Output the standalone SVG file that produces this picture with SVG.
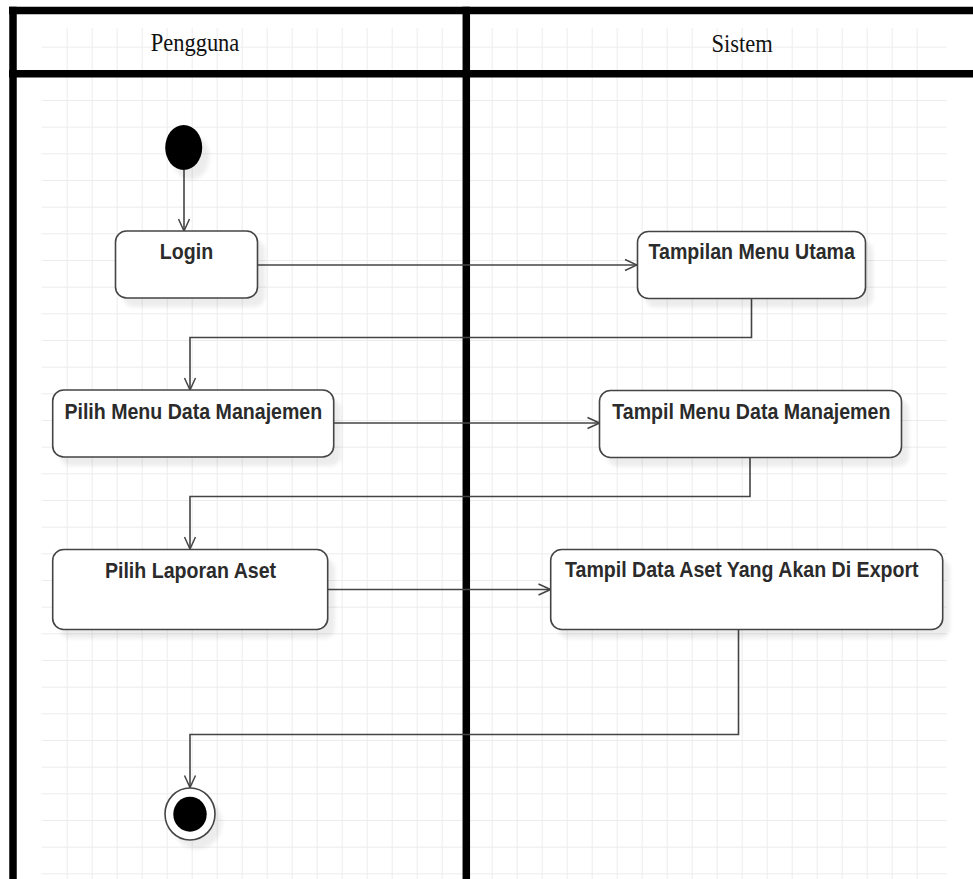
<svg xmlns="http://www.w3.org/2000/svg" width="973" height="879" viewBox="0 0 973 879">
  <defs>
    <pattern id="gridV" x="16.7" y="0" width="25" height="879" patternUnits="userSpaceOnUse">
      <line x1="0.5" y1="0" x2="0.5" y2="879" stroke="#ececec" stroke-width="1"/>
    </pattern>
    <pattern id="gridH" x="0" y="20" width="973" height="26.667" patternUnits="userSpaceOnUse">
      <line x1="0" y1="0.5" x2="973" y2="0.5" stroke="#ececec" stroke-width="1"/>
    </pattern>
    <filter id="soft" x="-20%" y="-20%" width="140%" height="140%">
      <feGaussianBlur stdDeviation="2"/>
    </filter>
    <marker id="open" viewBox="0 0 14 14" refX="13" refY="7" markerWidth="14" markerHeight="14" markerUnits="userSpaceOnUse" orient="auto">
      <path d="M1,1.5 L13,7 L1,12.5" fill="none" stroke="#444" stroke-width="1.5"/>
    </marker>
  </defs>
  <style>
    .act { fill: #fff; stroke: #444; stroke-width: 1.6; }
    .shadow { fill: #000; opacity: 0.07; filter: url(#soft); }
    .lbl { font-family: "Liberation Sans", Arial, sans-serif; font-weight: bold; font-size: 19.6px; fill: #2b2b2b; text-anchor: middle; }
    .lane { font-family: "Liberation Serif", "Times New Roman", serif; font-size: 22.5px; fill: #111; text-anchor: middle; }
    .flow { fill: none; stroke: #444; stroke-width: 1.6; marker-end: url(#open); }
    .border { stroke: #000; stroke-width: 7.5; fill: none; }
  </style>

  <!-- background grid -->
  <rect width="973" height="879" fill="#fff"/>
  <rect x="66" y="28" width="872" height="851" fill="url(#gridV)"/>
  <rect x="41.7" y="46" width="905" height="833" fill="url(#gridH)"/>

  <!-- swimlane frame -->
  <g id="lanes">
    <line class="border" x1="9" y1="10.5" x2="973" y2="10.5"/>
    <line class="border" x1="9" y1="73.7" x2="973" y2="73.7"/>
    <line class="border" x1="13" y1="6.7" x2="13" y2="879"/>
    <line class="border" x1="466.3" y1="6.7" x2="466.3" y2="879"/>
    <text class="lane" transform="translate(195,50.5) scale(1,1.08)">Pengguna</text>
    <text class="lane" transform="translate(742.2,52) scale(1,1.08)">Sistem</text>
  </g>

  <!-- connectors -->
  <g id="connectors">
    <path class="flow" d="M184,170 V231"/>
    <path class="flow" d="M258,265 H637"/>
    <path class="flow" d="M751.5,298.5 V337.5 H190 V390"/>
    <path class="flow" d="M334,423 H599.5"/>
    <path class="flow" d="M750,457.5 V496.5 H190 V549"/>
    <path class="flow" d="M327.5,589.5 H550.5"/>
    <path class="flow" d="M738.5,629.5 V734.5 H190 V787.5"/>
  </g>

  <!-- start -->
  <g id="start">
    <ellipse class="shadow" cx="191" cy="157" rx="18.5" ry="22.5"/>
    <ellipse cx="183.7" cy="147.5" rx="18.5" ry="22.5" fill="#000"/>
  </g>

  <g id="login">
    <rect class="shadow" x="123" y="240" width="142" height="67" rx="11"/>
    <rect class="act" x="115.5" y="231" width="142" height="67" rx="11"/>
    <text class="lbl" transform="translate(186.5,259) scale(1,1.08)">Login</text>
  </g>

  <g id="menu-utama">
    <rect class="shadow" x="645" y="240.5" width="228" height="67" rx="11"/>
    <rect class="act" x="637.5" y="231.5" width="228" height="67" rx="11"/>
    <text class="lbl" transform="translate(751.7,259.3) scale(1,1.08)">Tampilan Menu Utama</text>
  </g>

  <g id="pilih-menu">
    <rect class="shadow" x="60" y="399" width="281" height="67" rx="11"/>
    <rect class="act" x="52.7" y="390" width="281" height="67" rx="11"/>
    <text class="lbl" transform="translate(193.3,419.3) scale(1,1.08)">Pilih Menu Data Manajemen</text>
  </g>

  <g id="tampil-menu">
    <rect class="shadow" x="607" y="399.5" width="302" height="67" rx="11"/>
    <rect class="act" x="599.5" y="390.5" width="302" height="67" rx="11"/>
    <text class="lbl" transform="translate(751.3,419.3) scale(1,1.08)">Tampil Menu Data Manajemen</text>
  </g>

  <g id="pilih-laporan">
    <rect class="shadow" x="60" y="558.5" width="275" height="80" rx="11"/>
    <rect class="act" x="52.7" y="549.5" width="275" height="80" rx="11"/>
    <text class="lbl" transform="translate(190.5,577.7) scale(1,1.08)">Pilih Laporan Aset</text>
  </g>

  <g id="tampil-aset">
    <rect class="shadow" x="558" y="558.5" width="392" height="80" rx="11"/>
    <rect class="act" x="550.7" y="549.5" width="392" height="80" rx="11"/>
    <text class="lbl" transform="translate(741.8,576.7) scale(1,1.08)">Tampil Data Aset Yang Akan Di Export</text>
  </g>

  <!-- end -->
  <g id="end">
    <ellipse class="shadow" cx="197" cy="823" rx="25" ry="26"/>
    <ellipse cx="190" cy="814" rx="25" ry="26" fill="#fff" stroke="#444" stroke-width="1.6"/>
    <ellipse cx="190" cy="814.2" rx="16.7" ry="17.5" fill="#000"/>
  </g>
</svg>
